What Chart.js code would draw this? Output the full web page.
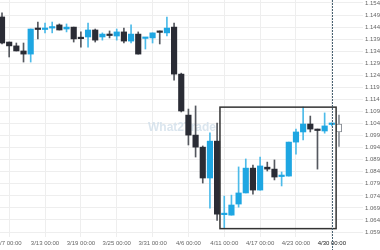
<!DOCTYPE html>
<html>
<head>
<meta charset="utf-8">
<script src="https://cdn.jsdelivr.net/npm/chart.js@4.4.1/dist/chart.umd.min.js"></script>
<style>
  html, body { margin: 0; padding: 0; background: #fff; }
  #wrap { width: 380px; height: 250px; position: relative; }
</style>
</head>
<body>
<div id="wrap"><canvas id="chart"></canvas></div>
<script>
// daily candles, oldest first
var opens  = [1.1482,1.1378,1.1362,1.1341,1.1328,1.1432,1.1430,1.1436,1.1449,1.1432,
              1.1440,1.1394,1.1399,1.1428,1.1399,1.1407,1.1403,1.1420,1.1382,1.1411,
              1.1393,1.1395,1.1420,1.1416,1.1440,1.1245,1.1075,1.0992,1.0942,1.0814,
              1.0967,1.0662,1.0660,1.0706,1.0752,1.0855,1.0764,1.0859,1.0851,1.0820,
              1.0822,1.0963,1.1005,1.1038,1.1013,1.1009,1.1036,1.1038];
var highs  = [1.1499,1.1378,1.1374,1.1374,1.1432,1.1461,1.1457,1.1461,1.1453,1.1453,
              1.1440,1.1420,1.1457,1.1432,1.1416,1.1424,1.1432,1.1436,1.1449,1.1420,
              1.1395,1.1416,1.1424,1.1482,1.1457,1.1249,1.1100,1.1113,1.0947,1.1001,
              1.1042,1.0739,1.0743,1.0860,1.0893,1.0868,1.0901,1.0880,1.0889,1.0839,
              1.0963,1.1017,1.1108,1.1071,1.1017,1.1084,1.1042,1.1075];
var lows   = [1.1370,1.1316,1.1341,1.1295,1.1295,1.1391,1.1416,1.1416,1.1428,1.1420,
              1.1378,1.1357,1.1357,1.1378,1.1386,1.1395,1.1386,1.1374,1.1374,1.1328,
              1.1349,1.1374,1.1370,1.1403,1.1220,1.1088,1.0951,1.0901,1.0793,1.0689,
              1.0638,1.0604,1.0660,1.0693,1.0752,1.0747,1.0764,1.0843,1.0806,1.0781,
              1.0822,1.0913,1.0972,1.1005,1.0851,1.1000,1.1030,1.0945];
var closes = [1.1374,1.1362,1.1341,1.1328,1.1432,1.1430,1.1432,1.1440,1.1428,1.1440,
              1.1391,1.1392,1.1428,1.1386,1.1411,1.1405,1.1420,1.1382,1.1411,1.1328,
              1.1395,1.1416,1.1418,1.1436,1.1245,1.1092,1.0992,1.0942,1.0814,1.0967,
              1.0664,1.0664,1.0702,1.0752,1.0855,1.0764,1.0864,1.0851,1.0818,1.0822,
              1.0963,1.1005,1.1038,1.1017,1.1011,1.1030,1.1038,1.1005];

var tickAt     = [1, 6, 11, 16, 21, 26, 31, 36, 41, 46];
var tickLabels = ['3/7 00:00','3/13 00:00','3/19 00:00','3/25 00:00','3/31 00:00',
                  '4/6 00:00','4/11 00:00','4/17 00:00','4/23 00:00','4/30 00:00'];
var priceTicks = [];
for (var k = 0; k <= 19; k++) priceTicks.push(+(1.059 + k * 0.005).toFixed(3));

var rangeFrom = 31, rangeTo = 46;   // boxed consolidation
var nowIdx = 46;                    // dashed marker

var BLUE = '#1ea6e2', DARK = '#2a2c35';
var last = opens.length - 1;

var bodies = [], wicks = [], bodyCol = [], wickCol = [], bodyBorder = [], bodyBw = [];
for (var i = 0; i < opens.length; i++) {
    var up = closes[i] >= opens[i];
    bodies.push({ x: i, y: [opens[i], closes[i]] });
    wicks.push({ x: i, y: [lows[i], highs[i]] });
    if (i === last) {
        bodyCol.push('#ffffff'); bodyBorder.push('#8a8f96'); bodyBw.push(1); wickCol.push('#8a8f96');
    } else {
        bodyCol.push(up ? BLUE : DARK); bodyBorder.push('rgba(0,0,0,0)'); bodyBw.push(0);
        wickCol.push(up ? '#4dbbe9' : '#55585f');
    }
}

var overlay = {
    id: 'overlay',
    beforeDatasetsDraw: function(chart) {
        var ctx = chart.ctx;
        ctx.save();
        ctx.font = 'bold 12px "Liberation Sans", Arial, sans-serif';
        ctx.fillStyle = 'rgba(205,220,232,0.75)';
        ctx.textAlign = 'center';
        ctx.textBaseline = 'middle';
        ctx.fillText('What2Trade', 182, 128);
        ctx.restore();
    },
    afterDatasetsDraw: function(chart) {
        var ctx = chart.ctx, x = chart.scales.x, y = chart.scales.y;
        var hi = -Infinity, lo = Infinity;
        for (var j = rangeFrom; j <= rangeTo; j++) {
            hi = Math.max(hi, highs[j]); lo = Math.min(lo, lows[j]);
        }
        var x0 = x.getPixelForValue(rangeFrom - 0.6), x1 = x.getPixelForValue(rangeTo + 0.6);
        var y0 = y.getPixelForValue(hi), y1 = y.getPixelForValue(lo);
        ctx.save();
        ctx.strokeStyle = '#333';
        ctx.lineWidth = 1.5;
        ctx.strokeRect(x0, y0, x1 - x0, y1 - y0);
        var xn = Math.round(x.getPixelForValue(nowIdx)) + 0.5;
        ctx.strokeStyle = '#4a6272';
        ctx.lineWidth = 1;
        ctx.setLineDash([2, 1]);
        ctx.beginPath();
        ctx.moveTo(xn, 0);
        ctx.lineTo(xn, chart.height);
        ctx.stroke();
        ctx.restore();
    }
};

new Chart(document.getElementById('chart'), {
    type: 'bar',
    data: {
        datasets: [
            { data: bodies, backgroundColor: bodyCol, borderColor: bodyBorder, borderWidth: bodyBw,
              borderSkipped: false, barThickness: 5.5, minBarLength: 1.5, order: 0 },
            { data: wicks, backgroundColor: wickCol, borderWidth: 0, barThickness: 1, order: 1 }
        ]
    },
    options: {
        responsive: true,
        maintainAspectRatio: false,
        animation: false,
        layout: { padding: 0 },
        plugins: { legend: { display: false }, tooltip: { enabled: false } },
        datasets: { bar: { grouped: false } },
        scales: {
            x: {
                type: 'linear',
                offset: false,
                min: -0.28,
                max: 50.35,
                afterBuildTicks: function(s) { s.ticks = tickAt.map(function(v) { return { value: v }; }); },
                afterFit: function(s) { s.height = 13; s.paddingLeft = 0; s.paddingRight = 0; },
                ticks: {
                    autoSkip: false, maxRotation: 0, padding: 3,
                    font: { size: 6, family: '"Liberation Sans", Arial, sans-serif' },
                    color: function(c) { return c.index === tickAt.length - 1 ? '#222' : '#666'; },
                    callback: function(v) { var n = tickAt.indexOf(v); return n < 0 ? '' : tickLabels[n]; }
                },
                grid: { color: '#eeeeee', drawTicks: false, offset: false },
                border: { display: false }
            },
            y: {
                position: 'right',
                min: 1.05693,
                max: 1.15524,
                afterBuildTicks: function(s) { s.ticks = priceTicks.map(function(v) { return { value: v }; }); },
                afterFit: function(s) { s.width = 17; s.paddingTop = 0; s.paddingBottom = 0; },
                ticks: {
                    padding: 2,
                    font: { size: 6, family: '"Liberation Sans", Arial, sans-serif' },
                    color: '#666',
                    callback: function(v) { return Number(v).toFixed(3); }
                },
                grid: { color: '#eeeeee', drawTicks: false },
                border: { display: false }
            }
        }
    },
    plugins: [overlay]
});
</script>
</body>
</html>
